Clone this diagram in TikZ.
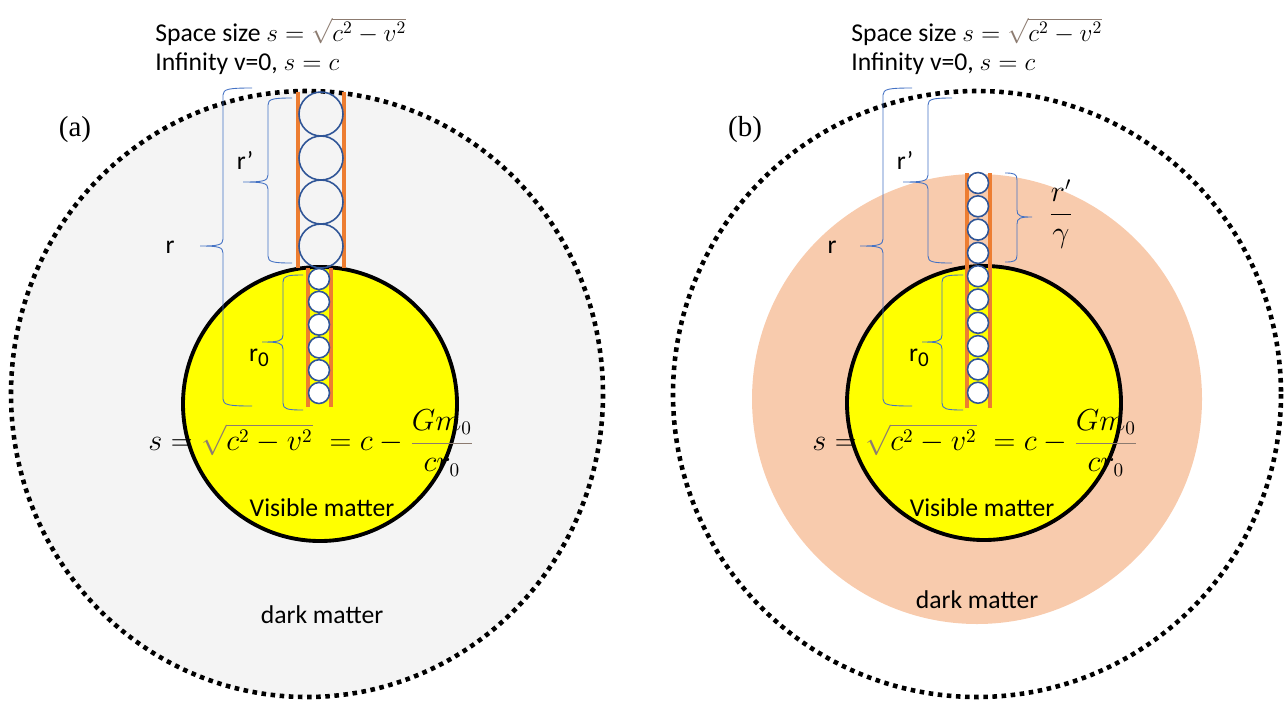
\documentclass[tikz,border=0pt]{standalone}
\usepackage{amsmath}
\usepackage{fontspec}
\setmainfont{Carlito}
\newfontfamily\timesfont{Liberation Serif}
\definecolor{haze}{HTML}{F4F4F4}
\definecolor{peach}{HTML}{F8CBAD}
\definecolor{sunyellow}{HTML}{FFFF00}
\definecolor{railorange}{HTML}{ED7D31}
\definecolor{ballblue}{HTML}{2F5597}
\definecolor{braceblue}{HTML}{4472C4}
\definecolor{rootgrey}{HTML}{8C7B70}

\begin{document}
\begin{tikzpicture}[x=0.02cm, y=-0.02cm,
    rim/.style={line width=2.6pt, dash pattern=on 2.6pt off 2.6pt},
    core/.style={fill=sunyellow, draw=black, line width=2.2pt},
    rail/.style={draw=railorange, line width=2.1pt},
    ball/.style={draw=ballblue, line width=0.9pt},
    curly/.style={draw=braceblue, line width=0.5pt},
    txt/.style={font=\fontsize{14.6}{17}\selectfont, inner sep=0pt},
    law/.style={font=\fontsize{16}{19}\selectfont, inner sep=0pt},
    tag/.style={font=\timesfont\fontsize{16.5}{19}\selectfont, inner sep=0pt}]
    \useasboundingbox (0, 0) rectangle (1287, 704);

    % panel (a)
    \fill[haze] (307, 394) circle[x radius=296, y radius=303];
    \draw[rim] (307, 394) circle[x radius=296, y radius=303];
    \draw[core] (320, 404) circle[radius=137];
    \draw[rail]
        (298, 92) -- (298, 268)
        (344, 92) -- (344, 268)
        (308, 268) -- (308, 407)
        (331, 268) -- (331, 407);
    \draw[ball]
        \foreach \i in {0, ..., 3} {
            (321, {114 + 44*\i}) circle[radius=22]
        };
    \filldraw[ball, fill=white]
        \foreach \i in {0, ..., 5} {
            (319, {279 + 22.8*\i}) circle[radius=10.5]
        };

    % panel (b)
    \draw[rim] (977, 394) circle[x radius=304, y radius=303];
    \fill[peach] (977, 399) circle[radius=225];
    \draw[core] (984, 403) circle[radius=137];
    \draw[rail]
        (967, 173) -- (967, 408)
        (990, 173) -- (990, 408);
    \filldraw[ball, fill=white]
        \foreach \i in {0, ..., 9} {
            (978, {183 + 23.3*\i}) circle[radius=10.5]
        };

    % braces: end x / body x / tip x / top / middle / bottom
    \foreach \xe/\xb/\xt/\ya/\ym/\yb in {
        252/223/200/88/246/406,
        292/268/243/98/182/263,
        303/283/262/275/342/410,
        912/883/860/88/246/406,
        952/928/903/98/182/263,
        963/942/922/275/342/410,
        1005/1017/1032/173/217/262
    } {
        \draw[curly]
            (\xe, \ya) .. controls ({\xb + 0.2*(\xe - \xb)}, \ya) and (\xb, \ya + 1) .. (\xb, \ya + 7)
            -- (\xb, \ym - 7) .. controls (\xb, \ym - 1) and ({\xb + 0.2*(\xt - \xb)}, \ym) .. (\xt, \ym)
            .. controls ({\xb + 0.2*(\xt - \xb)}, \ym) and (\xb, \ym + 1) .. (\xb, \ym + 7)
            -- (\xb, \yb - 7) .. controls (\xb, \yb - 1) and ({\xb + 0.2*(\xe - \xb)}, \yb) .. (\xe, \yb);
    };

    % texts
    \node[txt, anchor=base west] (sizea) at (155, 41)
        {Space size $s=\color{rootgrey}\sqrt{\color{black}c^2-v^2}$};
    \node[txt, anchor=base west] (infa) at (155, 70) {Infinity v=0, $s=c$};
    \node[txt, anchor=base west] (sizeb) at (851, 41)
        {Space size $s=\color{rootgrey}\sqrt{\color{black}c^2-v^2}$};
    \node[txt, anchor=base west] (infb) at (851, 70) {Infinity v=0, $s=c$};

    \node[tag] (taga) at (75, 130) {(a)};
    \node[tag] (tagb) at (745, 130) {(b)};

    \path[txt]
        (170, 247) node (ra) {r}
        (245, 160) node (rpa) {r’}
        (259, 358) node (rna) {r\raisebox{-0.45ex}{\fontsize{12}{14}\selectfont 0}}
        (832, 247) node (rb) {r}
        (905, 160) node (rpb) {r’}
        (919, 358) node (rnb) {r\raisebox{-0.45ex}{\fontsize{12}{14}\selectfont 0}};
    \node[law] (rgb) at (1061, 214) {$\dfrac{r'}{\gamma}$};

    \node[law, anchor=west] (lawa) at (148, 443)
        {$s=\color{rootgrey}\sqrt{\color{black}c^2-v^2}\color{black}\;=c-{\color{rootgrey}\dfrac{\color{black}Gm_0}{\color{black}cr_0}}$};
    \node[law, anchor=west] (lawb) at (812, 443)
        {$s=\color{rootgrey}\sqrt{\color{black}c^2-v^2}\color{black}\;=c-{\color{rootgrey}\dfrac{\color{black}Gm_0}{\color{black}cr_0}}$};

    \node[txt] (visa) at (322, 508) {Visible matter};
    \node[txt] (visb) at (982, 508) {Visible matter};
    \node[txt] (darka) at (322, 615) {dark matter};
    \node[txt] (darkb) at (977, 600) {dark matter};
\end{tikzpicture}
\end{document}
